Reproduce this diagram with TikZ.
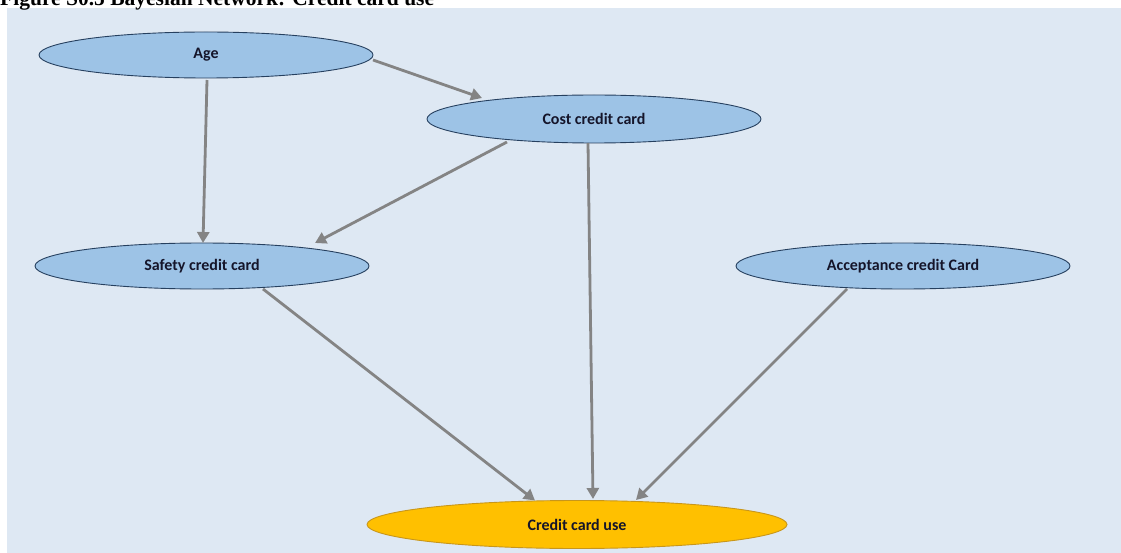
\documentclass[tikz,border=0pt]{standalone}
\usepackage{fontspec}
\setmainfont{Carlito}
\newfontfamily\titlefont{Liberation Serif}
\usetikzlibrary{calc,shapes.geometric,arrows.meta}
\definecolor{panel}{HTML}{DEE8F3}
\definecolor{nodefill}{HTML}{9DC3E6}
\definecolor{nodeline}{HTML}{26405F}
\definecolor{usefill}{HTML}{FFC000}
\definecolor{useline}{HTML}{C8961A}
\definecolor{arrowgray}{HTML}{848484}
\definecolor{txt}{HTML}{15152A}
\tikzset{
  bnode/.style={ellipse, draw=nodeline, line width=0.9pt, fill=nodefill, minimum width=334pt, minimum height=46pt, inner sep=0pt, font=\bfseries\fontsize{16}{19}\selectfont, text=txt},
  usenode/.style={bnode, draw=useline, fill=usefill, minimum width=420pt, minimum height=48pt},
  edge/.style={draw=arrowgray, line width=2.8pt, -{Triangle[length=11pt,width=12pt]}}
}
\begin{document}
\begin{tikzpicture}[x=1pt,y=-1pt]
\useasboundingbox (0,0) rectangle (1121,553);
\fill[panel] (7,8) rectangle (1121,553);
\node[anchor=base west, inner sep=0pt, font=\titlefont\bfseries\fontsize{21.5}{24}\selectfont] (title) at (0,6) {Figure S0.5 Bayesian Network: Credit card use};
\node[bnode] (age) at (206,55) {Age};
\node[bnode, minimum height=48pt] (cost) at (594,119) {Cost credit card};
\node[bnode] (safety) at (202,266) {Safety credit card};
\node[bnode] (accept) at (903,266) {Acceptance credit Card};
\node[usenode] (use) at (577,524.5) {Credit card use};
\draw[edge] ($(age.center)+(167,5)$) -- ($(cost.center)+(-112,-21)$);
\draw[edge] ($(age.center)+(1,25)$) -- ($(safety.center)+(1,-23)$);
\draw[edge] ($(cost.center)+(-87,23)$) -- ($(safety.center)+(113,-23)$);
\draw[edge] ($(cost.center)+(-6,24)$) -- ($(use.center)+(16,-25.5)$);
\draw[edge] ($(safety.center)+(61,23)$) -- ($(use.center)+(-42,-24)$);
\draw[edge] ($(accept.center)+(-56,23)$) -- ($(use.center)+(59,-24.5)$);
\end{tikzpicture}
\end{document}
